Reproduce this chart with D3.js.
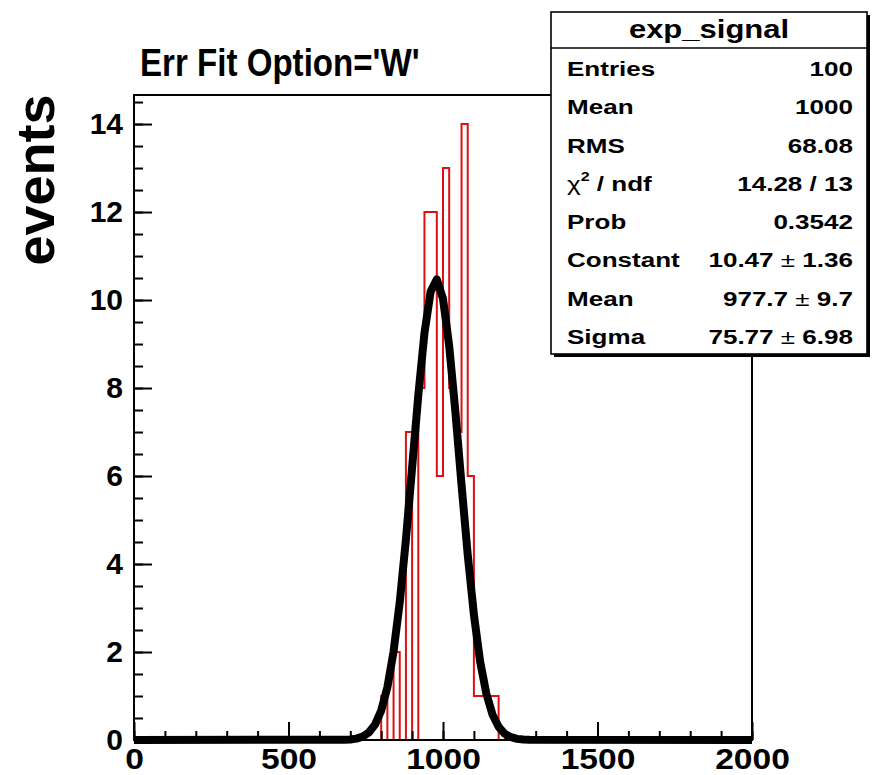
<!DOCTYPE html>
<html><head><meta charset="utf-8">
<script src="https://cdn.jsdelivr.net/npm/d3@7"></script>
<style>
body{margin:0;background:#fff;}
text{font-family:"Liberation Sans",Arial,Helvetica,sans-serif;font-weight:bold;fill:#000;}
</style>
</head><body>
<svg id="c" width="873" height="775"></svg>
<script>
// ---------- data ----------
const titleText = "Err Fit Option='W'";
const yAxisTitle = "events";
const binWidth = 20;            // 100 bins on [0,2000]
const binLow   = [800, 840, 880, 920, 940, 960, 980, 1000, 1020, 1040, 1060, 1080, 1100, 1120, 1140, 1160];
const binCount = [1,   2,   7,   8,   12,  12,  6,   13,   8,    7,    14,   6,    1,    1,    1,    1];
// fitted gaussian as drawn (sampled every 20)
const fitX = [0, 680, 700, 720, 740, 760, 780, 800, 820, 840, 860, 880, 900, 920, 940, 960, 980, 1000, 1020, 1040, 1060, 1080, 1100, 1120, 1140, 1160, 1180, 1200, 1220, 1240, 1260, 1280, 2000];
const fitY = [0, 0.005, 0.013, 0.032, 0.076, 0.17, 0.35, 0.67, 1.20, 2.01, 3.13, 4.56, 6.19, 7.83, 9.25, 10.19, 10.47, 10.03, 8.96, 7.47, 5.80, 4.21, 2.85, 1.79, 1.06, 0.58, 0.30, 0.14, 0.063, 0.026, 0.010, 0.004, 0];
const xTickValues = [0, 500, 1000, 1500, 2000];
const yTickValues = [0, 2, 4, 6, 8, 10, 12, 14];
const statsTitle  = "exp_signal";
const statsLabels = ["Entries", "Mean", "RMS", "χ^2 / ndf", "Prob", "Constant", "Mean", "Sigma"];
const statsValues = ["100", "1000", "68.08", "14.28 / 13", "0.3542", "10.47 ± 1.36", "977.7 ± 9.7", "75.77 ± 6.98"];

// ---------- layout ----------
const svg = d3.select("#c");
svg.append("rect").attr("width",873).attr("height",775).attr("fill","#fff");
const X0 = 134, X1 = 752, Y0 = 740, Y1 = 95;
const x = d3.scaleLinear().domain([0, 2000]).range([X0, X1]);
const y = d3.scaleLinear().domain([0, 14.66]).range([Y0, Y1]);

// histogram outline (HIST style)
const counts = d3.range(2000 / binWidth).map(i => {
  const k = binLow.indexOf(i * binWidth);
  return k >= 0 ? binCount[k] : 0;
});
const pts = [[0, 0]].concat(counts.map((c, i) => [i * binWidth, c]), [[2000, 0]]);
svg.append("path")
  .attr("d", d3.line().x(d => x(d[0])).y(d => y(d[1])).curve(d3.curveStepAfter)(pts))
  .attr("fill", "none").attr("stroke", "#dd1111").attr("stroke-width", 2);

// fit curve
svg.append("path")
  .attr("d", d3.line().x((d, i) => x(fitX[i])).y(d => y(d))(fitY))
  .attr("fill", "none").attr("stroke", "#000").attr("stroke-width", 8)
  .attr("stroke-linejoin", "round");

// axes (ticks inside frame)
const gx = svg.append("g").attr("transform", `translate(0,${Y0})`);
gx.call(d3.axisBottom(x).tickValues(d3.range(0, 2001, 100)).tickSize(-9).tickFormat(""));
gx.call(g => g.selectAll(".tick line").attr("stroke-width", 2));
const gxM = svg.append("g").attr("transform", `translate(0,${Y0})`);
gxM.call(d3.axisBottom(x).tickValues(xTickValues).tickSize(-18).tickPadding(8).tickFormat(d3.format("d")));
gxM.selectAll(".tick line").attr("stroke-width", 2);
gxM.selectAll(".tick text").attr("font-size", 30).attr("dy", "0.71em").attr("y", 8)
  .attr("transform", "scale(1.12,1)").style("font-family", "'Liberation Sans',Arial,sans-serif").style("font-weight", "bold");

const gy = svg.append("g").attr("transform", `translate(${X0},0)`);
gy.call(d3.axisLeft(y).tickValues(d3.range(0, 14.51, 0.5)).tickSize(-9).tickFormat(""));
gy.selectAll(".tick line").attr("stroke-width", 2);
const gyM = svg.append("g").attr("transform", `translate(${X0},0)`);
gyM.call(d3.axisLeft(y).tickValues(yTickValues).tickSize(-18).tickPadding(11).tickFormat(d3.format("d")));
gyM.selectAll(".tick line").attr("stroke-width", 2);
gyM.selectAll(".tick text").attr("font-size", 30)
  .style("font-family", "'Liberation Sans',Arial,sans-serif").style("font-weight", "bold");
svg.selectAll(".domain").remove();

// frame
svg.append("rect").attr("x", X0).attr("y", Y1).attr("width", X1 - X0).attr("height", Y0 - Y1)
  .attr("fill", "none").attr("stroke", "#000").attr("stroke-width", 2);

// title
svg.append("text").attr("transform", "translate(140,76) scale(0.86,1)")
  .attr("font-size", 38.5).text(titleText);
// y title
svg.append("text").attr("transform", "translate(54,180) rotate(-90)")
  .attr("text-anchor", "middle").attr("font-size", 54).text(yAxisTitle);

// stats box
const BX = 551, BY = 12, BW = 316, BH = 342;
const sb = svg.append("g");
sb.append("rect").attr("x", BX + 3).attr("y", BY + 3).attr("width", BW).attr("height", BH).attr("fill", "#000");
sb.append("rect").attr("x", BX).attr("y", BY).attr("width", BW).attr("height", BH)
  .attr("fill", "#fff").attr("stroke", "#000").attr("stroke-width", 1.6);
sb.append("line").attr("x1", BX).attr("x2", BX + BW).attr("y1", 48).attr("y2", 48)
  .attr("stroke", "#000").attr("stroke-width", 1.6);
sb.append("text").attr("transform", `translate(${BX + BW / 2},38) scale(1.24,1)`)
  .attr("text-anchor", "middle").attr("font-size", 25).text(statsTitle);
const rowH = (BY + BH - 48) / statsLabels.length;
statsLabels.forEach((lab, i) => {
  const by = 48 + rowH * i + 28;
  const t = sb.append("text").attr("transform", `translate(567,${by}) scale(1.24,1)`).attr("font-size", 21);
  if (lab.includes("^")) {
    const [a, rest] = lab.split("^");
    t.append("tspan").attr("font-weight", "normal").text(a);
    t.append("tspan").attr("font-size", 13).attr("dy", -10).text(rest[0]);
    t.append("tspan").attr("dy", 10).text(rest.slice(1));
  } else t.text(lab);
  const v = sb.append("text").attr("transform", `translate(853,${by}) scale(1.24,1)`)
    .attr("text-anchor", "end").attr("font-size", 21);
  const parts = statsValues[i].split("±");
  v.append("tspan").text(parts[0]);
  if (parts.length > 1) {
    v.append("tspan").attr("font-weight", "normal").text("±");
    v.append("tspan").text(parts[1]);
  }
});
</script>
</body></html>
